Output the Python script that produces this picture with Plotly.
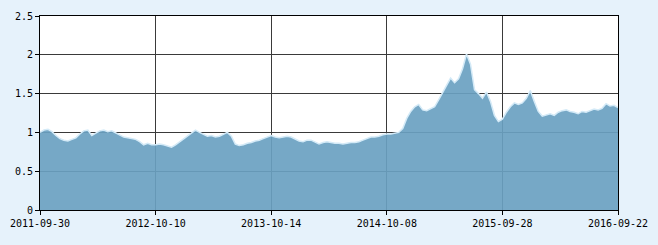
import plotly.graph_objects as go

values = [
    1.00, 1.03, 1.04, 1.01, 0.96, 0.92, 0.90, 0.89, 0.91, 0.93,
    0.98, 1.02, 1.03, 0.96, 0.99, 1.02, 1.03, 1.01, 1.02, 0.99,
    0.96, 0.94, 0.93, 0.92, 0.91, 0.88, 0.84, 0.86, 0.84, 0.84,
    0.85, 0.84, 0.82, 0.81, 0.84, 0.88, 0.92, 0.96, 1.00, 1.03,
    1.00, 0.97, 0.95, 0.96, 0.94, 0.95, 0.98, 1.00, 0.95, 0.85,
    0.83, 0.84, 0.86, 0.87, 0.89, 0.90, 0.92, 0.94, 0.96, 0.94,
    0.93, 0.94, 0.95, 0.94, 0.91, 0.89, 0.88, 0.90, 0.90, 0.87,
    0.85, 0.87, 0.88, 0.87, 0.86, 0.86, 0.85, 0.86, 0.87, 0.87,
    0.88, 0.90, 0.92, 0.94, 0.94, 0.95, 0.97, 0.98, 0.98, 0.99,
    1.00, 1.05, 1.18, 1.27, 1.33, 1.36, 1.29, 1.28, 1.30, 1.33,
    1.42, 1.52, 1.62, 1.70, 1.64, 1.69, 1.82, 2.01, 1.88, 1.55,
    1.50, 1.44, 1.52, 1.40, 1.22, 1.14, 1.17, 1.26, 1.33, 1.38,
    1.36, 1.38, 1.44, 1.54, 1.40, 1.27, 1.21, 1.23, 1.24, 1.22,
    1.26, 1.28, 1.29, 1.27, 1.26, 1.24, 1.27, 1.26, 1.28, 1.30,
    1.29, 1.31, 1.37, 1.34, 1.35, 1.32,
]
tick_labels = ["2011-09-30", "2012-10-10", "2013-10-14",
               "2014-10-08", "2015-09-28", "2016-09-22"]
y_ticks = [0, 0.5, 1, 1.5, 2, 2.5]
y_tick_labels = ["0", "0.5", "1", "1.5", "2", "2.5"]

n = len(values)
x = list(range(n))
step = (n - 1) / (len(tick_labels) - 1)
tick_pos = [i * step for i in range(len(tick_labels))]

fig = go.Figure()
fig.add_trace(go.Scatter(
    x=x, y=values, mode="lines", fill="tozeroy",
    fillcolor="rgba(106,161,193,0.92)",
    line=dict(color="#d4eaf7", width=1.5),
    hoverinfo="skip",
))

font = dict(family="DejaVu Sans Mono, Liberation Mono, monospace", size=10, color="#000000")
fig.update_layout(
    width=658, height=245,
    margin=dict(l=38, r=40, t=10, b=35),
    paper_bgcolor="#e6f2fb",
    plot_bgcolor="#ffffff",
    showlegend=False,
    font=font,
)
fig.update_xaxes(
    range=[0, n - 1], tickmode="array", tickvals=tick_pos, ticktext=tick_labels,
    showgrid=True, gridcolor="#3a3a3a", gridwidth=1,
    showline=True, linecolor="#000000", linewidth=1, mirror=True,
    ticks="outside", ticklen=4, tickcolor="#000000", zeroline=False,
    tickfont=font,
)
fig.update_yaxes(
    range=[0, 2.5], tickmode="array", tickvals=y_ticks, ticktext=y_tick_labels,
    showgrid=True, gridcolor="#3a3a3a", gridwidth=1,
    showline=True, linecolor="#000000", linewidth=1, mirror=True,
    ticks="outside", ticklen=4, tickcolor="#000000", zeroline=False,
    tickfont=font,
)

fig.write_html("out.html")
